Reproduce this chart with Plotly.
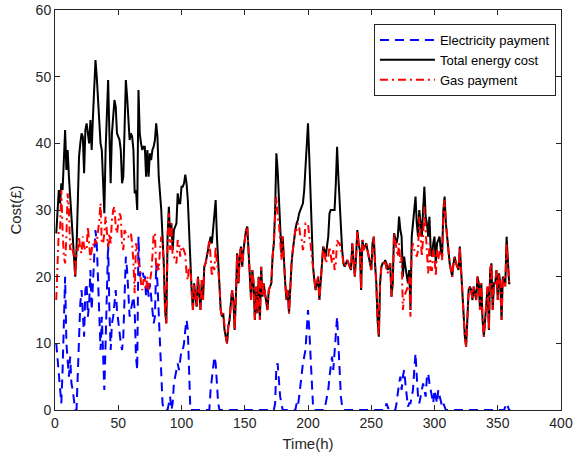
import plotly.graph_objects as go

hours = list(range(1, 361))

total_cost = [
    26.5, 30, 33, 31, 34, 33, 37, 42, 36, 39,
    35, 32, 29, 27, 24, 20, 24, 30, 38, 40,
    41.5, 41, 35.5, 42, 43, 41.5, 40, 43.5, 39, 44,
    47.5, 52.5, 50, 46.5, 42.5, 40, 39, 34, 29.5, 39,
    44, 49.5, 41.5, 34, 41.5, 44, 46.5, 45.5, 41.5, 41,
    40.5, 39, 34, 35, 44, 49.5, 47, 44, 40.5, 41.5,
    41, 39, 32.5, 33, 30, 48, 41.5, 40, 39, 39.5,
    39.5, 35, 39, 35, 38.5, 37.5, 39, 39.5, 40.5, 43,
    41, 35, 33, 30, 26, 22, 15, 13, 26, 30.5,
    26, 28, 24, 27, 27.5, 28, 32.5, 31, 31, 33.5,
    33.5, 34, 35.3, 34, 31.5, 26.5, 21.5, 18, 15, 19,
    17, 15.5, 20, 17, 15, 19.5, 16.5, 21.5, 22, 23,
    24, 25.5, 26, 25, 27.5, 29, 31.5, 26, 22, 19,
    15, 14, 14.5, 12, 11, 10, 12.5, 13.5, 16, 18,
    16.5, 12, 17, 23.5, 19, 23, 24.5, 21.5, 24, 26,
    27, 27.5, 24, 21, 16.5, 21, 19, 13.5, 18.5, 14.5,
    20, 13.5, 21.5, 17, 19, 17.5, 16.5, 15, 18, 18.5,
    19, 23, 25, 30, 38.5, 36, 32, 27.5, 23.5, 26,
    22, 19, 16.5, 18, 14.5, 19, 22, 24, 26, 27,
    28, 28.5, 29.5, 30, 30.5, 31, 33, 37, 40, 43,
    38, 33, 26, 21.5, 19.5, 18, 19, 20, 16.5, 19,
    22, 24.5, 24, 23, 24.5, 26, 29.5, 30, 30, 30,
    30, 34, 39.5, 35, 31, 26, 24, 22, 21.5, 22,
    22.5, 22, 21.5, 21, 25, 22, 20, 23, 27, 25,
    24, 18, 25.5, 24, 24.5, 25, 24, 23, 22, 21,
    25, 26, 22, 19, 13.5, 11, 19, 21.5, 22, 22,
    22.5, 22, 21, 21.5, 22, 17, 19, 26.5, 25.5, 25,
    26, 29, 27, 26, 20, 23, 21.5, 20, 19, 21,
    15, 26, 28, 30, 32, 28, 26, 30, 28, 26,
    30, 33.5, 29, 28, 26, 29, 24, 23, 25, 26,
    22, 25, 25.5, 26, 24, 23, 30, 32, 28, 26,
    23, 22, 21, 20, 22, 23, 22, 21.5, 21, 24.5,
    21, 17, 15, 11, 9.5, 14, 18, 18.5, 18, 16.5,
    18.5, 17.5, 16.5, 20, 19, 15, 19, 13.5, 11, 13.5,
    16.5, 18.5, 12, 21, 22, 15, 19, 19, 21, 16.5,
    20.5, 19, 13.5, 20, 19.5, 19, 26, 23, 19, 19,
]

electricity_payment = [
    10, 8, 6, 4, 1, 6, 14, 20, 10, 6.5,
    5, 8, 4, 3, 1, 0, 0, 6, 12, 16,
    18, 15, 11, 18, 19, 14, 16, 21, 15, 19,
    23, 27, 25, 20, 14, 9, 14, 9, 3, 10,
    18, 25, 15, 9, 13, 14, 16, 18, 15, 13,
    11, 10, 9, 11, 17, 23, 21, 18, 14, 15,
    16, 17, 15, 8, 6, 26, 20, 21, 21, 20,
    20, 17, 19, 17, 19, 17, 16, 13, 14, 22,
    19, 14, 9, 4, 1, 0, 0, 0, 0, 1,
    2, 0, 1, 4, 5, 6, 7, 6, 8, 9,
    9, 10, 12, 13.5, 12, 5, 0, 0, 0, 0,
    0, 0, 0, 0, 0, 0, 0, 0, 0, 0,
    0, 0, 3, 5, 6, 8, 7, 4, 1, 0,
    0, 0, 0, 0, 0, 0, 0, 0, 0, 0,
    0, 0, 0, 0, 0, 0, 0, 0, 0, 0,
    0, 0, 0, 0, 0, 0, 0, 0, 0, 0,
    0, 0, 0, 0, 0, 0, 0, 0, 0, 0,
    0, 0, 0, 1, 6.5, 7, 4, 2, 1, 0,
    0, 0, 0, 0, 0, 0, 0, 0, 0, 0,
    1, 0.5, 2, 4, 5, 7, 8, 9, 12, 15,
    12, 8, 3, 0.5, 0, 0, 0, 0, 0, 0,
    0, 0, 0, 1, 2, 3, 5, 7, 8, 6,
    9, 12, 14, 10, 6, 2, 0.5, 0, 0, 0,
    0, 0, 0, 0, 0, 0, 0, 0, 0, 0,
    0, 0, 0, 0, 0, 0, 0, 0, 0, 0,
    0, 0, 0, 0, 0, 0, 0, 0, 0, 0,
    0, 1, 0.5, 0, 0, 0, 0, 0, 0, 1,
    3, 4, 5, 3, 5, 6, 4, 2, 0.5, 1,
    1, 2, 3, 6, 8.5, 5, 2, 1, 2, 3,
    4, 3, 2, 5, 5.5, 4, 3, 2, 1, 3,
    2, 1, 3, 2, 1, 0.5, 1, 0.5, 0, 0,
    0, 0, 0, 0, 0, 0, 0, 0, 0, 0,
    0, 0, 0, 0, 0, 0, 0, 0, 0, 0,
    0, 0, 0, 0, 0, 0, 0, 0, 0, 0,
    0, 0, 0, 0, 0, 0, 0, 0, 0, 0,
    0, 0, 0, 0, 0, 0.5, 1, 0.5, 0, 0,
]

# Gas payment = total energy cost - electricity payment
gas_payment = [round(t - e, 2) for t, e in zip(total_cost, electricity_payment)]

x_ticks = [0, 50, 100, 150, 200, 250, 300, 350, 400]
y_ticks = [0, 10, 20, 30, 40, 50, 60]

axis_color = "#262626"
font_family = "Liberation Sans, Arial, sans-serif"

fig = go.Figure()
fig.add_trace(go.Scatter(
    x=hours, y=electricity_payment, mode="lines", name="Electricity payment",
    line=dict(color="#0000FF", width=2, dash="9px,6px"),
))
fig.add_trace(go.Scatter(
    x=hours, y=total_cost, mode="lines", name="Total energy cost",
    line=dict(color="#000000", width=2),
))
fig.add_trace(go.Scatter(
    x=hours, y=gas_payment, mode="lines", name="Gas payment",
    line=dict(color="#FF0000", width=2, dash="8px,4px,2px,4px"),
))

axis_common = dict(
    showgrid=False, zeroline=False, showline=True, linecolor=axis_color,
    linewidth=1, mirror="ticks", ticks="inside", ticklen=5, tickcolor=axis_color,
    tickfont=dict(family=font_family, size=14, color=axis_color),
    automargin=False,
)

fig.update_layout(
    width=574, height=461,
    margin=dict(l=55, r=13, t=10, b=51, autoexpand=False),
    paper_bgcolor="white", plot_bgcolor="white",
    font=dict(family=font_family, color=axis_color),
    showlegend=True,
    legend=dict(
        x=0.99, y=0.965, xanchor="right", yanchor="top",
        bgcolor="white", bordercolor=axis_color, borderwidth=1,
        font=dict(family=font_family, size=13, color="#000000"),
        tracegroupgap=0, itemwidth=55,
    ),
    xaxis=dict(
        range=[0, 400], tickvals=x_ticks,
        title=dict(text="Time(h)", font=dict(family=font_family, size=15, color=axis_color), standoff=8),
        **axis_common,
    ),
    yaxis=dict(
        range=[0, 60], tickvals=y_ticks,
        title=dict(text="Cost(£)", font=dict(family=font_family, size=15, color=axis_color), standoff=10),
        **axis_common,
    ),
)

fig.write_html(
    "out.html",
    config={"displayModeBar": False},
    post_script="document.body.style.margin='0';document.body.style.overflow='hidden';",
)
